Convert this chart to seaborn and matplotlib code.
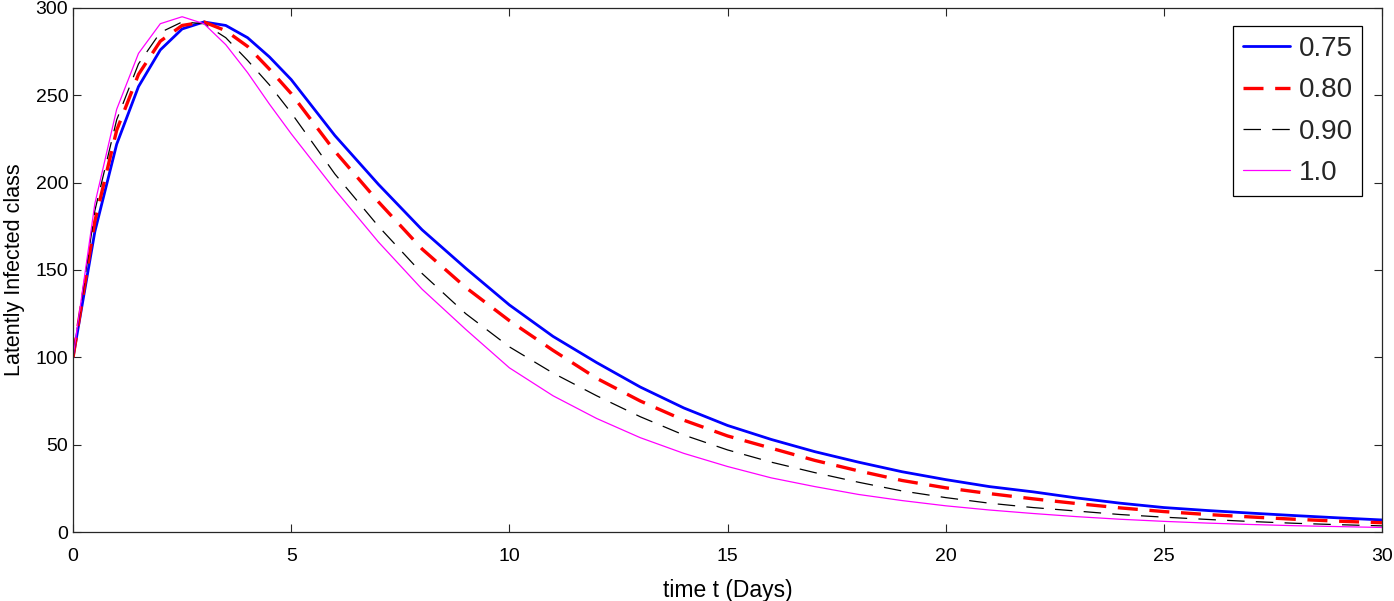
import numpy as np
import pandas as pd
import seaborn as sns
import matplotlib.pyplot as plt

# ========= DATA =========
days = [0, 0.5, 1, 1.5, 2, 2.5, 3, 3.5, 4, 4.5, 5,
        6, 7, 8, 9, 10, 11, 12, 13, 14, 15, 16, 17, 18, 19, 20,
        21, 22, 23, 24, 25, 26, 27, 28, 29, 30]

latent_075 = [100, 172, 222, 255, 276, 288, 292, 290, 283, 272, 259,
              227, 199, 173, 151, 130, 112, 97, 83, 71, 61, 53, 46, 40, 34.5, 30,
              26, 23, 19.5, 16.5, 14, 12.3, 10.8, 9.4, 8.1, 6.9]
latent_080 = [100, 178, 230, 262, 281, 290, 292, 287, 278, 265, 251,
              218, 189, 162, 140, 121, 104, 88, 75, 64, 55, 48, 41, 35, 29.5, 25.3,
              22, 19, 16.3, 13.8, 11.7, 10, 8.6, 7.3, 6.2, 5.3]
latent_090 = [100, 184, 236, 268, 286, 292, 291, 283, 270, 256, 240,
              205, 175, 148, 125, 106, 91, 78, 66, 55.5, 47, 40, 34, 28.5, 23.5, 19.7,
              16.5, 14, 12, 10, 8.5, 7.2, 6, 5, 4.2, 3.5]
latent_100 = [100, 188, 242, 274, 291, 295, 291, 279, 263, 245, 228,
              196, 166, 139, 116, 94, 78, 65, 54, 45, 37.5, 31, 26, 21.5, 18, 15,
              12.6, 10.6, 8.8, 7.3, 6.1, 5.1, 4.3, 3.6, 3.1, 2.6]

labels = ["0.75", "0.80", "0.90", "1.0"]

# ========= STYLE =========
sns.set_style("ticks")
plt.rcParams["font.family"] = ["Liberation Sans", "DejaVu Sans"]
axis_col = "#262626"

fig = plt.figure(figsize=(13.94, 6.01), dpi=100)
ax = fig.add_axes([0.0524, 0.1148, 0.9390, 0.8719])

series = [latent_075, latent_080, latent_090, latent_100]
styles = [
    dict(color="#0000ff", lw=2.0, linestyle="-"),
    dict(color="#ff0000", lw=2.4, linestyle=(0, (6, 3.5))),
    dict(color="#000000", lw=0.9, linestyle=(0, (14, 9))),
    dict(color="#ff00ff", lw=0.9, linestyle="-"),
]
for vals, lab, st in zip(series, labels, styles):
    df = pd.DataFrame({"t": days, "L": vals})
    sns.lineplot(data=df, x="t", y="L", ax=ax, label=lab, **st)

ax.set_xlim(0, 30)
ax.set_ylim(0, 300)
ax.set_xticks(np.arange(0, 31, 5))
ax.set_yticks(np.arange(0, 301, 50))
ax.set_xlabel("time t (Days)", fontsize=16.5, color="black", labelpad=10)
ax.set_ylabel("Latently Infected class", fontsize=15.5, color="black", labelpad=7.5)
ax.tick_params(direction="in", length=6, width=0.8, colors=axis_col,
               labelsize=14, labelcolor="black", top=True, right=True)
ax.tick_params(axis="x", pad=11.5)
for sp in ax.spines.values():
    sp.set_visible(True)
    sp.set_color(axis_col)
    sp.set_linewidth(0.9)

leg = ax.legend(loc="upper right", bbox_to_anchor=(0.985, 0.965), fontsize=20,
                frameon=True, fancybox=False, shadow=False, handlelength=1.7,
                handletextpad=0.3, borderpad=0.35, labelspacing=0.55,
                borderaxespad=0)
leg.get_frame().set_edgecolor("black")
leg.get_frame().set_linewidth(0.9)
leg.get_frame().set_alpha(1)

fig.savefig("out.png", dpi=100)
